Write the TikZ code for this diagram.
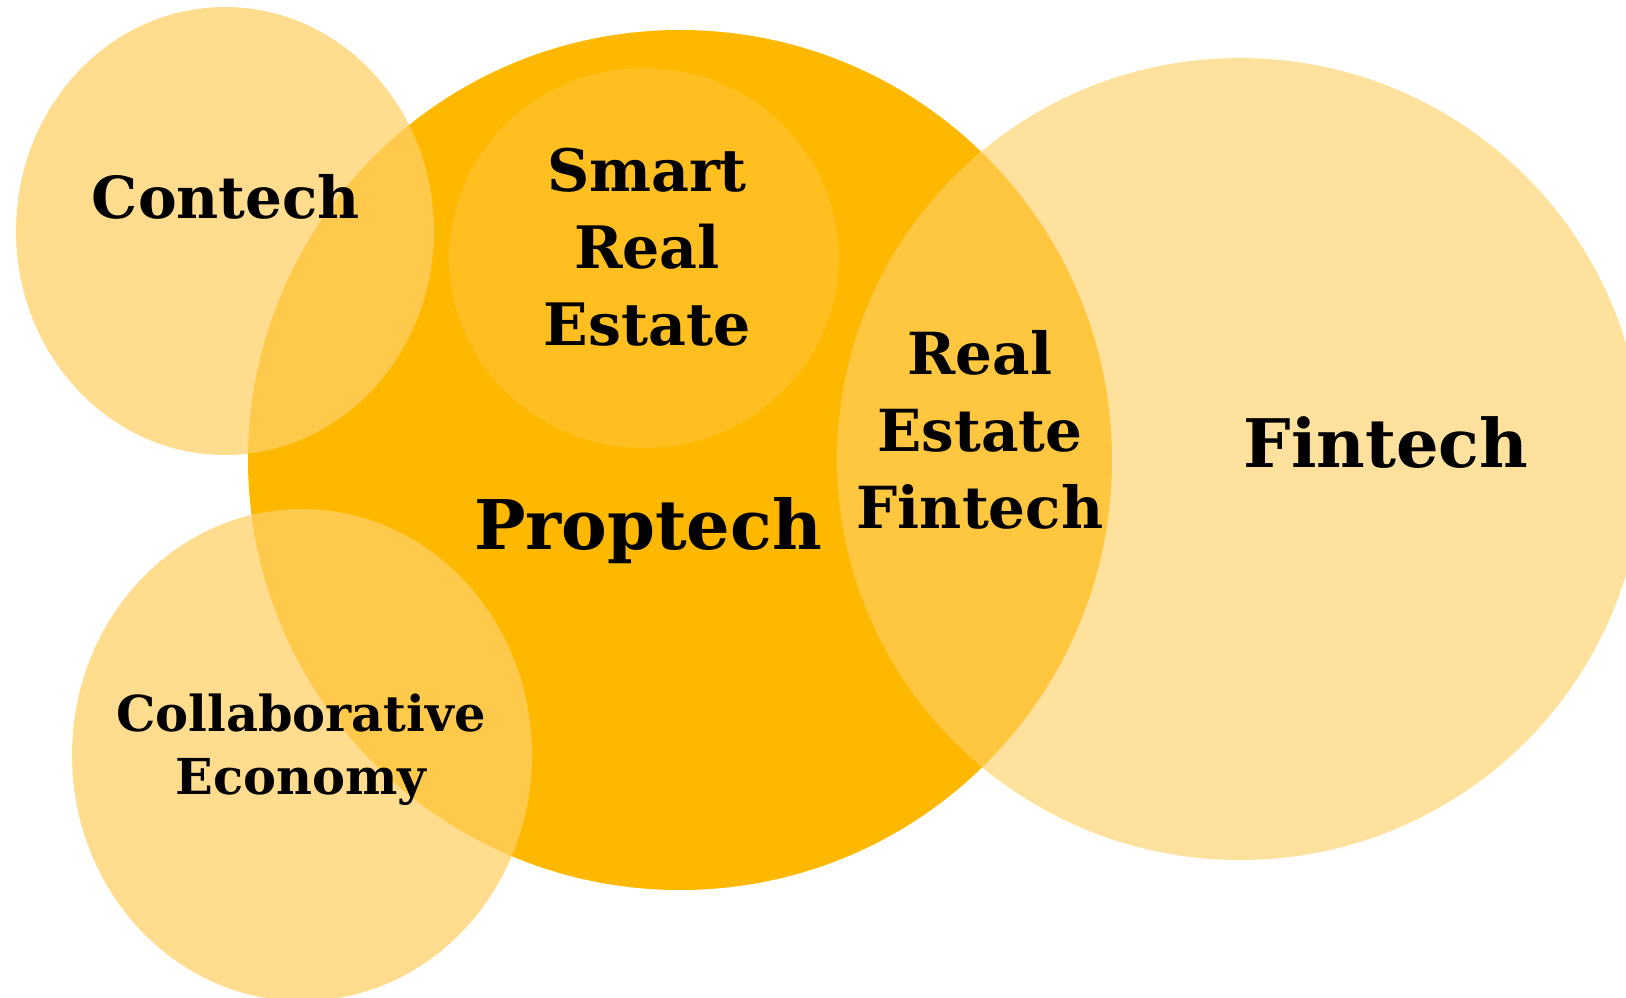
\documentclass[tikz,border=0pt]{standalone}
\usepackage{fontspec}
\setmainfont{DejaVu Serif}
\begin{document}
\begin{tikzpicture}[x=1pt,y=-1pt,
  core/.style={fill=propt},
  bubble/.style={fill=soft, fill opacity=#1},
  lbl/.style={font=\bfseries, text=black, inner sep=0pt, align=center}]
\definecolor{propt}{RGB}{255,184,0}
\definecolor{soft}{RGB}{255,208,102}
\useasboundingbox (0,0) rectangle (1626,998);
% circles
\fill[core] (680,460) ellipse [x radius=432, y radius=430];
\fill[bubble=0.33] (644,258) ellipse [x radius=195, y radius=190];
\fill[bubble=0.74] (225,231) ellipse [x radius=209, y radius=224];
\fill[bubble=0.74] (302,755) ellipse [x radius=230, y radius=246];
\fill[bubble=0.63] (1240,459) ellipse [x radius=403, y radius=401];
% labels
\node[lbl, anchor=base, font=\bfseries\fontsize{58}{72}\selectfont] (contech) at (226,218) {Contech};
\node[lbl, font=\bfseries\fontsize{58.5}{77}\selectfont] (smart) at (647,247) {Smart\\Real\\Estate};
\node[lbl, anchor=base, font=\bfseries\fontsize{68.5}{80}\selectfont] (proptech) at (648,549) {Proptech};
\node[lbl, font=\bfseries\fontsize{58}{77}\selectfont] (refin) at (980,430) {Real\\Estate\\Fintech};
\node[lbl, anchor=base, font=\bfseries\fontsize{67}{80}\selectfont] (fintech) at (1386,467) {Fintech};
\node[lbl, font=\bfseries\fontsize{49.5}{63}\selectfont] (collab) at (301,750) {Collaborative\\Economy};
\end{tikzpicture}
\end{document}
